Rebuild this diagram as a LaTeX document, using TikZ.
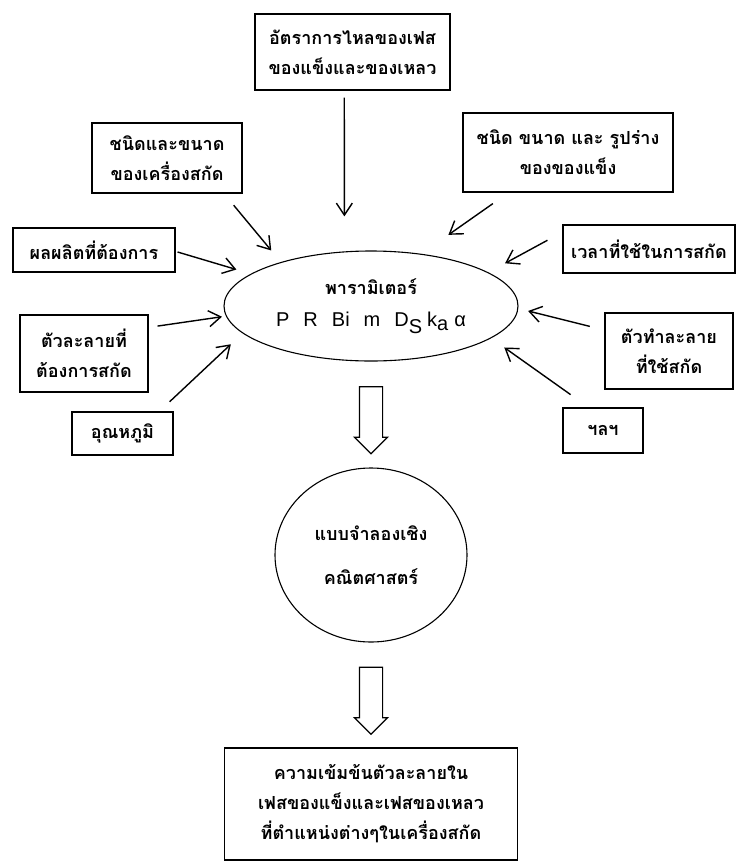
\documentclass[tikz,border=0pt]{standalone}
\usepackage{fontspec}
\newfontfamily\thaifont[Script=Thai]{Loma}
\setsansfont{Liberation Sans}
\usetikzlibrary{arrows.meta,positioning,shapes.geometric,shapes.arrows,calc}

\begin{document}
\begin{tikzpicture}[x=1pt,y=-1pt,node distance=249pt,on grid,
	every node/.style={font=\thaifont\bfseries\fontsize{18}{30}\selectfont,align=center},
	factor/.style={draw,line width=1.3pt,inner sep=0pt},
	hollow/.style={single arrow,draw,line width=1.2pt,rotate=-90,minimum height=67pt,minimum width=32pt,single arrow head extend=5pt,inner xsep=0pt,inner ysep=11pt},
	feed/.style={line width=1.4pt,-{Straight Barb[length=12pt,width=16pt,line width=1.4pt]}}]
	\useasboundingbox (0,0) rectangle (741,863);
	\node[ellipse,draw,line width=1.1pt,minimum width=294pt,minimum height=110pt,inner sep=0pt] (par) at (371,306)
		{พารามิเตอร์\\[2pt]{\sffamily\mdseries\fontsize{20}{22}\selectfont P\hspace{14pt}R\hspace{14pt}Bi\hspace{14pt}m\hspace{14pt}D\raisebox{-7pt}{S}\hspace{5pt}k\raisebox{-4pt}{a}\hspace{6pt}α}};
	\node[ellipse,draw,line width=1.1pt,minimum width=192pt,minimum height=174pt,inner sep=0pt] (model) [below=of par] {แบบจำลองเชิง\\[14pt]คณิตศาสตร์};
	\node[factor,minimum width=293pt,minimum height=112pt] (conc) [below=of model] {ความเข้มข้นตัวละลายใน\\เฟสของแข็งและเฟสของเหลว\\ที่ตำแหน่งต่างๆในเครื่องสกัด};
	\node[hollow] (down_1) at ($(par.south)!0.5!(model.north)$) {};
	\node[hollow] (down_2) at ($(model.south)!0.5!(conc.north)$) {};
	\node[factor,minimum width=195pt,minimum height=76pt] (f_1) at (352.5,52) {อัตราการไหลของเฟส\\ของแข็งและของเหลว};
	\node[factor,minimum width=150pt,minimum height=70pt] (f_2) at (167,158) {ชนิดและขนาด\\ของเครื่องสกัด};
	\node[factor,minimum width=210pt,minimum height=79pt] (f_3) at (568,152.5) {ชนิด ขนาด และ รูปร่าง\\ของของแข็ง};
	\node[factor,minimum width=162pt,minimum height=44pt] (f_4) at (94,250) {ผลผลิตที่ต้องการ};
	\node[factor,minimum width=172pt,minimum height=48pt] (f_5) at (649,249) {เวลาที่ใช้ในการสกัด};
	\node[factor,minimum width=128pt,minimum height=77pt] (f_6) at (84,353.5) {ตัวละลายที่\\ต้องการสกัด};
	\node[factor,minimum width=101pt,minimum height=43pt] (f_7) at (122.5,433.5) {อุณหภูมิ};
	\node[factor,minimum width=128pt,minimum height=76pt] (f_8) at (669,351) {ตัวทำละลาย\\ที่ใช้สกัด};
	\node[factor,minimum width=80pt,minimum height=45pt] (f_9) at (603,430.5) {ฯลฯ};
	\path[feed]
	(f_1.-102.6) edge[shorten <=7pt,shorten >=35pt] (par.116.6)
	(f_2.-32.5) edge[shorten <=15pt,shorten >=15pt] (par.154.2)
	(f_3.-146.9) edge[shorten <=19pt,shorten >=33pt] (par.46.7)
	(f_4.-1) edge[shorten <=2pt,shorten >=15pt] (par.165.3)
	(f_5.169) edge[shorten <=17pt,shorten >=19pt] (par.16.6)
	(f_6.22.9) edge[shorten <=9pt,shorten >=4pt] (par.-176.7)
	(f_7.31.6) edge[shorten <=14pt,shorten >=16pt] (par.-168.6)
	(f_8.162.1) edge[shorten <=15pt,shorten >=10pt] (par.-1.9)
	(f_9.122.8) edge[shorten <=22pt,shorten >=16pt] (par.-15.3)
	;
\end{tikzpicture}
\end{document}
